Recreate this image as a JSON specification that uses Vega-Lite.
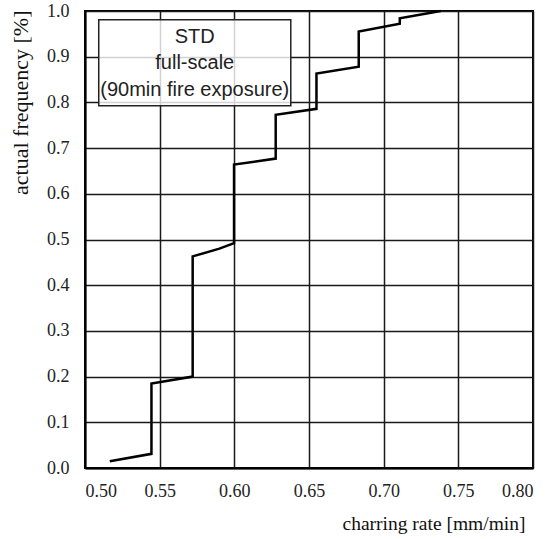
{
  "$schema": "https://vega.github.io/schema/vega-lite/v6.json",
  "width": 448,
  "height": 457,
  "autosize": "none",
  "padding": {"left": 85, "top": 11, "right": 21, "bottom": 71},
  "background": "white",
  "config": {
    "view": {"stroke": "#000", "strokeWidth": 2},
    "axis": {
      "labelFont": "Liberation Serif",
      "labelFontSize": 18,
      "labelColor": "#222",
      "titleFont": "Liberation Serif",
      "titleFontSize": 19.5,
      "titleFontWeight": "normal",
      "titleColor": "#111",
      "gridColor": "#1a1a1a",
      "gridWidth": 1.5,
      "gridOpacity": 1,
      "domainColor": "#000",
      "domainWidth": 2,
      "tickSize": 0,
      "ticks": false
    }
  },
  "datasets": {
    "curve": [
      {"i": 1, "rate": 0.5166, "freq": 0.015},
      {"i": 2, "rate": 0.5445, "freq": 0.031},
      {"i": 3, "rate": 0.5445, "freq": 0.185},
      {"i": 4, "rate": 0.5721, "freq": 0.200},
      {"i": 5, "rate": 0.5721, "freq": 0.463},
      {"i": 6, "rate": 0.5900, "freq": 0.480},
      {"i": 7, "rate": 0.5998, "freq": 0.492},
      {"i": 8, "rate": 0.5998, "freq": 0.664},
      {"i": 9, "rate": 0.6277, "freq": 0.677},
      {"i": 10, "rate": 0.6277, "freq": 0.773},
      {"i": 11, "rate": 0.6550, "freq": 0.786},
      {"i": 12, "rate": 0.6550, "freq": 0.863},
      {"i": 13, "rate": 0.6833, "freq": 0.878},
      {"i": 14, "rate": 0.6833, "freq": 0.955},
      {"i": 15, "rate": 0.7108, "freq": 0.972},
      {"i": 16, "rate": 0.7108, "freq": 0.984},
      {"i": 17, "rate": 0.7382, "freq": 1.0}
    ],
    "labels": [
      {"text": "STD", "rate": 0.5735, "freq": 0.943},
      {"text": "full-scale", "rate": 0.5735, "freq": 0.887},
      {"text": "(90min fire exposure)", "rate": 0.5735, "freq": 0.828}
    ]
  },
  "layer": [
    {
      "data": {"name": "curve"},
      "mark": {"type": "line", "color": "#000", "strokeWidth": 2.5, "strokeJoin": "miter"},
      "encoding": {
        "x": {
          "field": "rate", "type": "quantitative",
          "scale": {"domain": [0.5, 0.8], "nice": false, "zero": false},
          "axis": {
            "values": [0.5, 0.55, 0.6, 0.65, 0.7, 0.75, 0.8],
            "format": ".2f",
            "labelFont": "Liberation Serif",
            "labelFontSize": 18,
            "labelPadding": 14,
            "title": "charring rate [mm/min]",
            "titleAnchor": "end",
            "titleAlign": "right",
            "titleBaseline": "middle",
            "titleX": 440,
            "titleY": 55
          }
        },
        "y": {
          "field": "freq", "type": "quantitative",
          "scale": {"domain": [0, 1], "nice": false},
          "axis": {
            "values": [0, 0.1, 0.2, 0.3, 0.4, 0.5, 0.6, 0.7, 0.8, 0.9, 1.0],
            "format": ".1f",
            "labelFont": "Liberation Serif",
            "labelFontSize": 18,
            "labelPadding": 16,
            "title": "actual frequency [%]",
            "titleFontSize": 22,
            "titleAnchor": "end",
            "titleAlign": "right",
            "titleX": -53,
            "titleY": -1
          }
        },
        "order": {"field": "i", "type": "quantitative"}
      }
    },
    {
      "data": {"values": [{}]},
      "mark": {"type": "rect", "fill": "white", "fillOpacity": 0.8, "stroke": "#222", "strokeWidth": 1.5},
      "encoding": {
        "x": {"datum": 0.5092, "type": "quantitative"},
        "x2": {"datum": 0.6378},
        "y": {"datum": 0.981, "type": "quantitative"},
        "y2": {"datum": 0.7925}
      }
    },
    {
      "data": {"name": "labels"},
      "mark": {"type": "text", "font": "Liberation Sans", "fontSize": 20, "color": "#222", "align": "center", "baseline": "middle"},
      "encoding": {
        "x": {"field": "rate", "type": "quantitative"},
        "y": {"field": "freq", "type": "quantitative"},
        "text": {"field": "text"}
      }
    }
  ]
}
